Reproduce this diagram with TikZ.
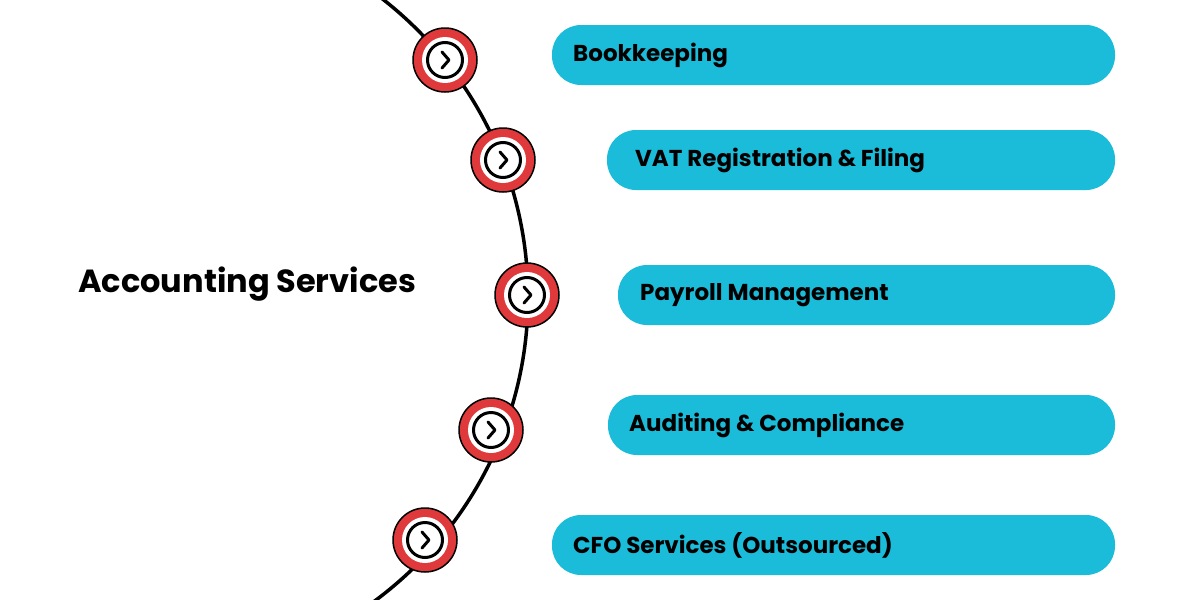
\documentclass[tikz,border=0pt]{standalone}
\usepackage{fontspec}
\setmainfont{Poppins}
\definecolor{pill}{HTML}{1BBCD9}
\definecolor{rd}{HTML}{E0393B}
\begin{document}
\begin{tikzpicture}[x=1pt,y=-1pt,
  lbl/.style={anchor=west,font=\bfseries\fontsize{23}{26}\selectfont,inner sep=0pt}]
\useasboundingbox (0,0) rectangle (1200,600);
\clip (0,0) rectangle (1200,600);
\draw[line width=3.5pt] (150,297) circle (378);
\foreach \n/\x/\y in {a/445/60,b/503/160,c/527/295,d/491/430,e/425/540}{
  \node[circle,fill=rd,draw=black,line width=1.5pt,minimum size=64pt,inner sep=0pt] (\n) at (\x,\y) {};
  \node[circle,fill=white,minimum size=46pt,inner sep=0pt] (\n w) at (\x,\y) {};
  \node[circle,draw=black,line width=3pt,minimum size=35pt,inner sep=0pt] (\n i) at (\x,\y) {};
  \draw[line width=3pt,line cap=round,line join=round] ([shift={(-3,-8)}]\n i.center) -- ([shift={(4,0)}]\n i.center) -- ([shift={(-3,8)}]\n i.center);
}
\foreach \n/\x/\y/\o/\t in {p1/552/55/21/Bookkeeping,p2/607/160/28/VAT Registration \& Filing,p3/618/295/22/Payroll Management,p4/608/425/21/Auditing \& Compliance,p5/552/545/21/CFO Services (Outsourced)}{
  \fill[pill,rounded corners=29pt] (\x,\y-30) rectangle (1115,\y+30);
  \node[lbl] (\n) at (\x+\o,\y) {\t};
}
\node[anchor=west,font=\bfseries\fontsize{32}{36}\selectfont,inner sep=0pt] (title) at (78,284) {Accounting Services};
\end{tikzpicture}
\end{document}
